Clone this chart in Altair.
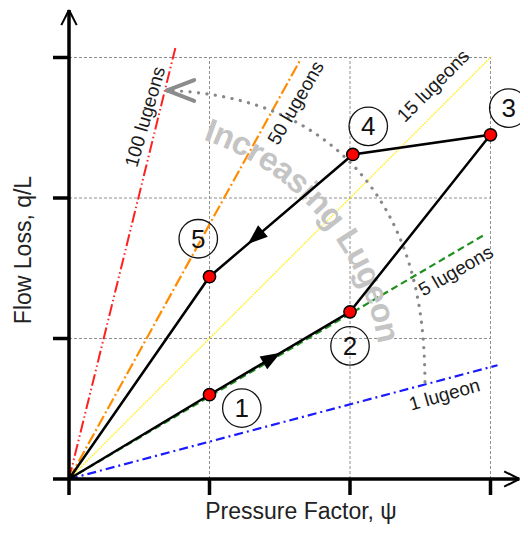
import math
import altair as alt
import pandas as pd

# ---------------- data ----------------
point_ids = ["1", "2", "3", "4", "5"]
point_x = [1.0, 2.0, 3.0, 2.02, 1.0]
point_y = [0.60, 1.19, 2.45, 2.31, 1.44]
badge_x = [1.23, 2.0, 3.13, 2.13, 0.92]
badge_y = [0.505, 0.947, 2.64, 2.51, 1.71]

lugeon_names = ["100 lugeons", "50 lugeons", "15 lugeons", "5 lugeons", "1 lugeon"]
lugeon_end_x = [0.76, 1.65, 3.0, 2.96, 3.05]
lugeon_end_y = [3.08, 2.99, 3.0, 1.74, 0.81]
lugeon_label_x = [0.544, 1.616, 2.594, 2.754, 2.673]
lugeon_label_y = [2.577, 2.676, 2.797, 1.480, 0.598]

tick_values = [0, 1, 2, 3]
x_title = "Pressure Factor, ψ"
y_title = "Flow Loss, q/L"
arc_text = "Increasing Lugeon"

# loop order: origin -> 1 -> 2 -> 3 -> 4 -> 5 -> origin
path_order = ["0", "1", "2", "3", "4", "5", "0"]
# direction arrows: (from, to, fraction along segment)
arrow_segments = [("1", "2", 0.445), ("4", "5", 0.68)]

# ---------------- styles ----------------
lugeon_styles = [
    dict(color="#ff2020", strokeDash=[12, 3, 1.5, 3, 1.5, 3], strokeWidth=2),
    dict(color="#ff8c00", strokeDash=[12, 3, 2, 3], strokeWidth=2.2),
    dict(color="#ffee00", strokeDash=[1.5, 1], strokeWidth=1.3),
    dict(color="#1f8f1f", strokeDash=[7, 4], strokeWidth=2.2),
    dict(color="#1a1aff", strokeDash=[9, 4, 2, 4], strokeWidth=2.2),
]
label_angles = [286, 300, 315, 330, 344]
FONT = "Liberation Sans"

# ---------------- geometry ----------------
W, H = 512, 517
PX = 140.5           # pixels per data unit (both axes)
OX, OY = 61.0, 471.0  # origin inside the plot area
XMIN, XMAX = -OX / PX, (W - OX) / PX
YMIN, YMAX = -(H - OY) / PX, OY / PX

xs = alt.Scale(domain=[XMIN, XMAX], nice=False, zero=False)
ys = alt.Scale(domain=[YMIN, YMAX], nice=False, zero=False)


def XE(f="x"):
    return alt.X(f"{f}:Q", scale=xs, axis=None)


def YE(f="y"):
    return alt.Y(f"{f}:Q", scale=ys, axis=None)


def segs(rows, **style):
    df = pd.DataFrame(rows, columns=["x", "y", "x2", "y2"])
    return alt.Chart(df).mark_rule(**style).encode(
        x=XE(), y=YE(), x2="x2:Q", y2="y2:Q")


def chevron(tip, dir_deg, length_px, half_deg):
    rows = []
    for s in (1, -1):
        a = math.radians(dir_deg + 180 + s * half_deg)
        rows.append((tip[0], tip[1], tip[0] + length_px / PX * math.cos(a),
                     tip[1] + length_px / PX * math.sin(a)))
    return rows


layers = []

# grid
grid_rows = []
for v in tick_values[1:]:
    grid_rows.append((v, 0, v, tick_values[-1]))
    grid_rows.append((0, v, tick_values[-1], v))
layers.append(segs(grid_rows, color="#8f8f8f", strokeWidth=1, strokeDash=[3, 2]))

# lugeon reference lines
for ex, ey, st in zip(lugeon_end_x, lugeon_end_y, lugeon_styles):
    layers.append(segs([(0, 0, ex, ey)], **st))

# dotted "increasing" arc (superellipse)
acx, acy = (140 - 69) / PX, (479 - 392) / PX
arx, ary, pw = 285 / PX, 302 / PX, 2.4
t0, t1 = 1.0, 86.6
n = 140
arc_rows = []
for k in range(n + 1):
    t = math.radians(t0 + (t1 - t0) * k / n)
    arc_rows.append((acx + arx * math.cos(t) ** (2 / pw), acy + ary * math.sin(t) ** (2 / pw), k))
arc_df = pd.DataFrame(arc_rows, columns=["x", "y", "o"])
layers.append(alt.Chart(arc_df).mark_line(color="#888888", strokeWidth=3.2, strokeDash=[0.1, 8.4],
                                          strokeCap="round").encode(x=XE(), y=YE(), order="o:Q"))
tip = arc_rows[-1][:2]
layers.append(segs(chevron(tip, 180, 29, 21), color="#8c8c8c", strokeWidth=4, strokeCap="round"))

# curved text
cw = {"I": .278, "n": .611, "c": .556, "r": .389, "e": .556, "a": .556, "s": .556, "i": .278,
      "g": .611, " ": .278, "L": .611, "u": .611, "o": .611}
fs = 33
tcx, tcy = (120 - 69) / PX, (479 - 388) / PX
r_mid, r_base = 272.0, 262.0
theta0 = 70.55
pos, acc = [], 0.0
for ch in arc_text:
    pos.append(acc + cw[ch] / 2)
    acc += cw[ch]
letters = []
for ch, c in zip(arc_text, pos):
    th = theta0 - math.degrees((c - pos[0]) * fs / r_mid)
    if ch == " ":
        continue
    letters.append((tcx + r_base / PX * math.cos(math.radians(th)),
                    tcy + r_base / PX * math.sin(math.radians(th)), ch, (90 - th) % 360))
let_df = pd.DataFrame(letters, columns=["x", "y", "ch", "rot"])
layers.append(alt.Chart(let_df).mark_text(font=FONT, fontSize=fs, fontWeight="bold", color="#c4c4c4",
                                          align="center", baseline="alphabetic").encode(
    x=XE(), y=YE(), text="ch:N", angle=alt.Angle("rot:Q", scale=None)))

# loop path
pts = {"0": (0.0, 0.0)}
for pid, x, y in zip(point_ids, point_x, point_y):
    pts[pid] = (x, y)
path_df = pd.DataFrame([(pts[p][0], pts[p][1], i) for i, p in enumerate(path_order)],
                       columns=["x", "y", "o"])
layers.append(alt.Chart(path_df).mark_line(color="black", strokeWidth=2.5).encode(
    x=XE(), y=YE(), order="o:Q"))

# direction arrows
arr = []
for a, b, f in arrow_segments:
    (xa, ya), (xb, yb) = pts[a], pts[b]
    ang = math.degrees(math.atan2(xb - xa, yb - ya)) % 360
    arr.append((xa + f * (xb - xa), ya + f * (yb - ya), ang))
arr_df = pd.DataFrame(arr, columns=["x", "y", "rot"])
layers.append(alt.Chart(arr_df).mark_point(shape="M0,-1L0.75,1L-0.75,1Z", filled=True, size=400,
                                           color="black", opacity=1).encode(
    x=XE(), y=YE(), angle=alt.Angle("rot:Q", scale=None)))

# red points
pt_df = pd.DataFrame({"x": point_x, "y": point_y, "id": point_ids})
layers.append(alt.Chart(pt_df).mark_circle(size=150, fill="#ff0000", stroke="black", strokeWidth=1.5,
                                           opacity=1).encode(x=XE(), y=YE()))

# circled numbers
bd_df = pd.DataFrame({"x": badge_x, "y": badge_y, "id": point_ids})
layers.append(alt.Chart(bd_df).mark_point(shape="circle", size=1480, filled=False, color="#111111",
                                          strokeWidth=1.3, opacity=1).encode(x=XE(), y=YE()))
layers.append(alt.Chart(bd_df).mark_text(font=FONT, fontSize=26, color="#111111", align="center",
                                         baseline="middle", dy=1).encode(x=XE(), y=YE(), text="id:N"))

# lugeon labels
lb_df = pd.DataFrame({"x": lugeon_label_x, "y": lugeon_label_y, "t": lugeon_names, "rot": label_angles})
layers.append(alt.Chart(lb_df).mark_text(font=FONT, fontSize=19, color="#1a1a1a", align="center",
                                         baseline="middle").encode(
    x=XE(), y=YE(), text="t:N", angle=alt.Angle("rot:Q", scale=None)))

# axes
tk = 16 / PX
ytip = (0.0, (479 - 10) / PX)
xtip = (3.205, 0.0)
axis_rows = [(0, 0, ytip[0], ytip[1]), (0, 0, xtip[0], xtip[1])]
for v in tick_values:
    axis_rows.append((v, 0, v, -tk))
    axis_rows.append((-tk, v, 0, v))
layers.append(segs(axis_rows, color="black", strokeWidth=3.5))
layers.append(segs(chevron(ytip, 90, 17, 27) + chevron(xtip, 0, 17, 27), color="black", strokeWidth=2))

# axis titles
ttl_df = pd.DataFrame({"x": [(301 - 69) / PX, (24 - 69) / PX],
                       "y": [(479 - 519) / PX, (479 - 250) / PX],
                       "t": [x_title, y_title]})
layers.append(alt.Chart(ttl_df.iloc[[0]]).mark_text(font=FONT, fontSize=23, color="#222222",
                                                    align="center", baseline="alphabetic").encode(
    x=XE(), y=YE(), text="t:N"))
layers.append(alt.Chart(ttl_df.iloc[[1]]).mark_text(font=FONT, fontSize=23, color="#222222",
                                                    align="center", baseline="middle", angle=270).encode(
    x=XE(), y=YE(), text="t:N"))

chart = alt.layer(*layers).properties(
    width=W, height=H, padding=0, autosize=alt.AutoSizeParams(type="none"),
    background="white"
).configure_view(stroke=None)

chart.save("out.html", embed_options={"renderer": "svg", "actions": False})
